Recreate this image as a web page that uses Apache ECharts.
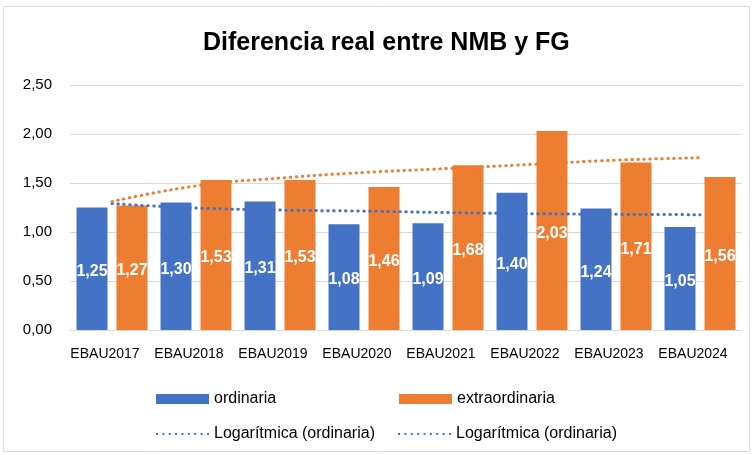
<!DOCTYPE html>
<html>
<head>
<meta charset="utf-8">
<script src="https://cdn.jsdelivr.net/npm/echarts@6/dist/echarts.min.js"></script>
<style>
    html, body { margin: 0; padding: 0; background: #fff; }
    #chart { width: 753px; height: 455px; }
</style>
</head>
<body>
<div id="chart"></div>
<script>
    // datos
    const categories = ['EBAU2017', 'EBAU2018', 'EBAU2019', 'EBAU2020', 'EBAU2021', 'EBAU2022', 'EBAU2023', 'EBAU2024'];
    const ordinaria = [1.25, 1.30, 1.31, 1.08, 1.09, 1.40, 1.24, 1.05];
    const extraordinaria = [1.27, 1.53, 1.53, 1.46, 1.68, 2.03, 1.71, 1.56];
    // lineas de tendencia (logaritmica), leidas punto a punto
    const trendOrdinaria = [1.29, 1.245, 1.224, 1.213, 1.198, 1.187, 1.18, 1.177];
    const trendExtra = [1.31, 1.47, 1.55, 1.607, 1.648, 1.69, 1.733, 1.757];
    const yTicks = [0, 0.5, 1, 1.5, 2, 2.5];

    const BLUE = '#4472C4';
    const ORANGE = '#ED7D31';
    const FONT = 'Liberation Sans';
    const trendName1 = 'Logarítmica (ordinaria)';
    const trendName2 = 'Logarítmica (ordinaria)\u200b';

    const fmt = v => v.toFixed(2).replace('.', ',');

    // icono punteado para la leyenda de las tendencias
    let dots = '';
    for (let i = 0; i < 9; i++) dots += 'M' + (i * 6.4) + ',0h2v2h-2z';
    const dottedIcon = 'path://' + dots;

    const barLabel = {
        show: true,
        position: 'inside',
        offset: [0, 3],
        color: '#fff',
        fontFamily: FONT,
        fontWeight: 'bold',
        fontSize: 16,
        formatter: p => fmt(p.value)
    };

    const legendBase = {
        itemWidth: 53, itemHeight: 10, itemTextGap: 6,
        textStyle: { fontFamily: FONT, fontSize: 16, color: '#000' }
    };

    const chart = echarts.init(document.getElementById('chart'));
    chart.setOption({
        animation: false,
        graphic: [{
            type: 'rect',
            shape: { x: 3.5, y: 6.5, width: 746, height: 445 },
            style: { fill: 'none', stroke: '#d9d9d9', lineWidth: 1 },
            silent: true
        }],
        title: {
            text: 'Diferencia real entre NMB y FG',
            left: 198,
            top: 26,
            textStyle: { fontFamily: FONT, fontWeight: 'bold', fontSize: 25, color: '#000' }
        },
        legend: [
            Object.assign({ left: 151, top: 386, data: [{ name: 'ordinaria', icon: 'rect' }] }, legendBase),
            Object.assign({ left: 394, top: 386, data: [{ name: 'extraordinaria', icon: 'rect' }] }, legendBase),
            Object.assign({ left: 151, top: 421, data: [{ name: trendName1, icon: dottedIcon }] }, legendBase),
            Object.assign({ left: 393, top: 421, data: [{ name: trendName2, icon: dottedIcon, itemStyle: { color: BLUE } }] }, legendBase)
        ],
        grid: { left: 70, right: 11, top: 85, bottom: 125 },
        xAxis: {
            type: 'category',
            data: categories,
            axisTick: { show: false },
            axisLine: { lineStyle: { color: '#d9d9d9' } },
            axisLabel: { fontFamily: FONT, fontSize: 14, color: '#000', margin: 17, interval: 0, padding: [0, 14, 0, 0] }
        },
        yAxis: {
            type: 'value',
            min: yTicks[0],
            max: yTicks[yTicks.length - 1],
            interval: 0.5,
            axisLabel: { fontFamily: FONT, fontSize: 15, color: '#000', margin: 18, formatter: v => fmt(v) },
            splitLine: { lineStyle: { color: '#d9d9d9' } }
        },
        series: [
            {
                name: 'ordinaria', type: 'bar', data: ordinaria,
                barWidth: 31, barGap: '29%',
                itemStyle: { color: BLUE },
                label: barLabel
            },
            {
                name: 'extraordinaria', type: 'bar', data: extraordinaria,
                barWidth: 31,
                itemStyle: { color: ORANGE },
                label: barLabel
            },
            {
                name: trendName1, type: 'line', data: trendOrdinaria,
                symbol: 'none', smooth: true, z: 5,
                itemStyle: { color: BLUE },
                lineStyle: { color: BLUE, type: [0.5, 5.5], cap: 'round', width: 3 }
            },
            {
                name: trendName2, type: 'line', data: trendExtra,
                symbol: 'none', smooth: true, z: 5,
                itemStyle: { color: ORANGE },
                lineStyle: { color: ORANGE, type: [0.5, 5.5], cap: 'round', width: 3 }
            }
        ]
    });
</script>
</body>
</html>
